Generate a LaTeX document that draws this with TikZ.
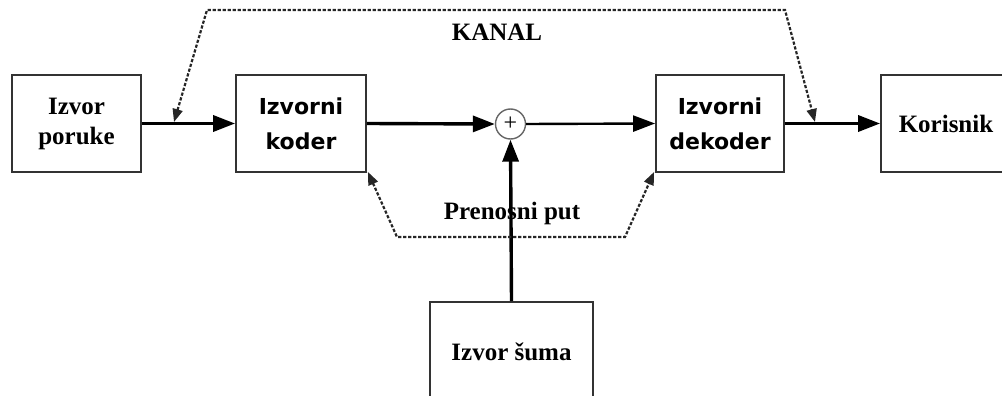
\documentclass[tikz,border=0pt]{standalone}
\usepackage{fontspec}
\setmainfont{Liberation Serif}
\newfontfamily\boxsans{DejaVu Sans}
\usetikzlibrary{arrows.meta}
\tikzset{
  blk/.style={draw=black!80, line width=1.8pt, rectangle, minimum height=97pt, align=center, inner sep=0pt},
  serifblk/.style={blk, font=\fontsize{25}{30}\selectfont\bfseries},
  sansblk/.style={blk, font=\fontsize{22}{35}\selectfont\boxsans\bfseries},
  mainarrow/.style={line width=3.4pt, -{Triangle[length=22pt,width=16pt]}},
  thinarrow/.style={line width=2.4pt, -{Triangle[length=22pt,width=16pt]}},
  chan/.style={draw=black!85, line width=2.2pt, dash pattern=on 3.2pt off 1.8pt, {Triangle[length=13pt,width=10pt]}-{Triangle[length=13pt,width=10pt]}},
  lbl/.style={font=\fontsize{25}{30}\selectfont\bfseries, inner sep=1pt}
}
\begin{document}
\begin{tikzpicture}[x=1pt,y=-1pt]
\useasboundingbox (0,0) rectangle (1002,396);
\clip (0,0) rectangle (1002,396);
\node[serifblk, minimum width=129pt] (poruke) at (76.5,123.5) {Izvor\\poruke};
\node[sansblk, minimum width=130pt] (koder) at (301,123.5) {Izvorni\\koder};
\node[draw=black!60, line width=1.4pt, circle, minimum size=30pt, inner sep=0pt, font=\fontsize{24}{24}\selectfont] (sum) at (510.5,124) {+};
\node[sansblk, minimum width=128pt] (dekoder) at (720,123.5) {Izvorni\\dekoder};
\node[serifblk, minimum width=130pt] (korisnik) at (946,123.5) {Korisnik};
\node[serifblk, minimum width=163pt, minimum height=100pt] (suma) at (511.5,352) {Izvor šuma};

\draw[mainarrow] (poruke.east) -- (koder.west);
\draw[mainarrow] (koder.east) -- (sum.west);
\draw[thinarrow] (sum.east) -- (dekoder.west);
\draw[mainarrow] (dekoder.east) -- (korisnik.west);
\draw[mainarrow] (suma.north) -- (sum.south);

\coordinate (kin) at (174,122);
\coordinate (kout) at (815,122);
\coordinate (kl) at (207,10);
\coordinate (kr) at (785,10);
\draw[chan] (kin) -- (kl) -- (kr) -- (kout);
\node[lbl] (kanal) at (497,32) {KANAL};

\coordinate (pl) at (397,237);
\coordinate (pr) at (625,237);
\draw[chan] ([shift={(1pt,1pt)}]koder.south east) -- (pl) -- (pr) -- ([shift={(-1pt,1pt)}]dekoder.south west);
\node[lbl] (prenosni) at (512,213) {Prenosni put};
\end{tikzpicture}
\end{document}
